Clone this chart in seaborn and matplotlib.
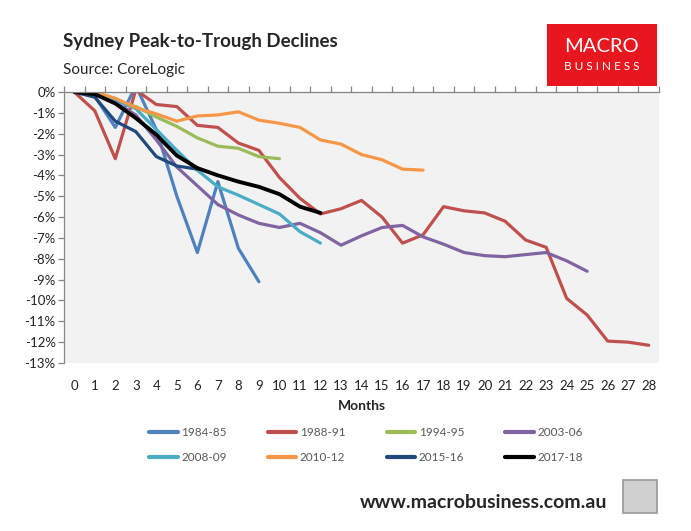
import pandas as pd
import matplotlib
matplotlib.use("Agg")
import matplotlib.pyplot as plt
import seaborn as sns
from matplotlib.lines import Line2D
from matplotlib.patches import Rectangle

# peak-to-trough change (%) by month since peak
periods = ["1984-85", "1988-91", "1994-95", "2003-06",
           "2008-09", "2010-12", "2015-16", "2017-18"]
colors = ["#4f81bd", "#c0504d", "#9bbb59", "#8064a2",
          "#4bacc6", "#f79646", "#1f497d", "#000000"]

p1984 = [0, -0.2, -1.7, 0.3, -1.8, -5.0, -7.7, -4.3, -7.5, -9.1]
p1988 = [0, -0.9, -3.2, 0.1, -0.6, -0.7, -1.6, -1.7, -2.45, -2.8, -4.1, -5.1,
         -5.85, -5.6, -5.2, -6.0, -7.25, -6.85, -5.5, -5.7, -5.8, -6.2, -7.1,
         -7.45, -9.9, -10.7, -11.95, -12.0, -12.15]
p1994 = [0, -0.1, -0.4, -0.7, -1.2, -1.65, -2.2, -2.6, -2.7, -3.1, -3.2]
p2003 = [0, -0.1, -0.5, -1.1, -2.3, -3.6, -4.5, -5.4, -5.9, -6.3, -6.5, -6.3,
         -6.75, -7.35, -6.9, -6.5, -6.4, -6.95, -7.3, -7.7, -7.85, -7.9, -7.8,
         -7.7, -8.1, -8.6]
p2008 = [0, -0.1, -0.4, -0.8, -1.8, -2.8, -3.75, -4.55, -4.95, -5.4, -5.85,
         -6.7, -7.25]
p2010 = [0, 0.0, -0.3, -0.75, -1.05, -1.4, -1.15, -1.1, -0.95, -1.35, -1.5,
         -1.7, -2.3, -2.5, -3.0, -3.25, -3.7, -3.75]
p2015 = [0, -0.25, -1.4, -1.9, -3.1, -3.55, -3.7]
p2017 = [0, -0.1, -0.55, -1.25, -2.05, -3.05, -3.65, -4.0, -4.3, -4.55, -4.9,
         -5.5, -5.8]
series = [p1984, p1988, p1994, p2003, p2008, p2010, p2015, p2017]

month_ticks = list(range(0, 29))
pct_ticks = list(range(0, -14, -1))

rows = []
for name, vals in zip(periods, series):
    for m, v in enumerate(vals):
        rows.append({"Month": m, "Change": v, "Period": name})
df = pd.DataFrame(rows)

sns.set_theme(style="white")
plt.rcParams['font.family'] = ['Lato', 'DejaVu Sans']

fig = plt.figure(figsize=(6.91, 5.31), dpi=100)
ax = fig.add_axes([64 / 691, 1 - 363 / 531, 595 / 691, 271 / 531])
ax.set_facecolor("#f2f2f2")

sns.lineplot(data=df, x="Month", y="Change", hue="Period", hue_order=periods,
             palette=dict(zip(periods, colors)), sort=False, legend=False,
             linewidth=2.3, ax=ax)
for line, name in zip(ax.lines, periods):
    line.set_solid_joinstyle("round")
    if name == "2017-18":
        line.set_linewidth(2.8)

ax.set_xlim(-0.5, 28.5)
ax.set_ylim(-13, 0)
ax.set_xticks(month_ticks)
ax.set_xticklabels([str(m) for m in month_ticks], fontsize=9.5, color="#222222")
ax.set_xticks([m + 0.5 for m in range(-1, 29)], minor=True)
ax.set_yticks(pct_ticks)
ax.set_yticklabels([f"{v}%" for v in pct_ticks], fontsize=9.5, color="#222222")

ax.tick_params(axis="x", which="major", length=0, pad=12)
ax.tick_params(axis="x", which="minor", top=True, bottom=False,
               direction="out", length=4, color="#868686", width=0.9)
ax.tick_params(axis="y", which="major", left=True, direction="out",
               length=4, color="#868686", width=0.9, pad=2)

for side in ["right", "bottom"]:
    ax.spines[side].set_visible(False)
for side in ["left", "top"]:
    ax.spines[side].set_color("#868686")
    ax.spines[side].set_linewidth(0.9)

ax.set_xlabel("Months", fontsize=10, fontweight="bold", labelpad=6)
ax.set_ylabel("")

# legend, row-wise order in 4 columns
handles = [Line2D([0], [0], color=c, lw=3) for c in colors]
order = [0, 4, 1, 5, 2, 6, 3, 7]
fig.legend([handles[i] for i in order], [periods[i] for i in order],
           ncol=4, loc="center", bbox_to_anchor=(366 / 691, 1 - 445 / 531),
           frameon=False, fontsize=8.5, labelcolor="#595959",
           handlelength=2.4, handletextpad=0.3, columnspacing=3.5,
           labelspacing=1.2)

fig.text(63 / 691, 1 - 42 / 531, "Sydney Peak-to-Trough Declines",
         fontsize=13.5, fontweight="bold", va="center", ha="left")
fig.text(63 / 691, 1 - 70 / 531, "Source: CoreLogic",
         fontsize=11, va="center", ha="left")

# logo block
fig.patches.append(Rectangle((547 / 691, 1 - 86 / 531), 110 / 691, 62 / 531,
                             transform=fig.transFigure, facecolor="#e8161e",
                             edgecolor="none"))
fig.text(602 / 691, 1 - 46 / 531, "MACRO", color="white", fontsize=14.5,
         fontweight="normal", ha="center", va="center")
fig.text(602 / 691, 1 - 66 / 531, "B U S I N E S S", color="white",
         fontsize=8.5, ha="center", va="center")

fig.text(484 / 691, 1 - 503 / 531, "www.macrobusiness.com.au",
         fontsize=14, fontweight="bold", ha="center", va="center")
fig.patches.append(Rectangle((623 / 691, 1 - 513 / 531), 34 / 691, 33 / 531,
                             transform=fig.transFigure, facecolor="#d0d0d0",
                             edgecolor="#9a9a9a", linewidth=1.2))

fig.savefig("out.png", dpi=100)
